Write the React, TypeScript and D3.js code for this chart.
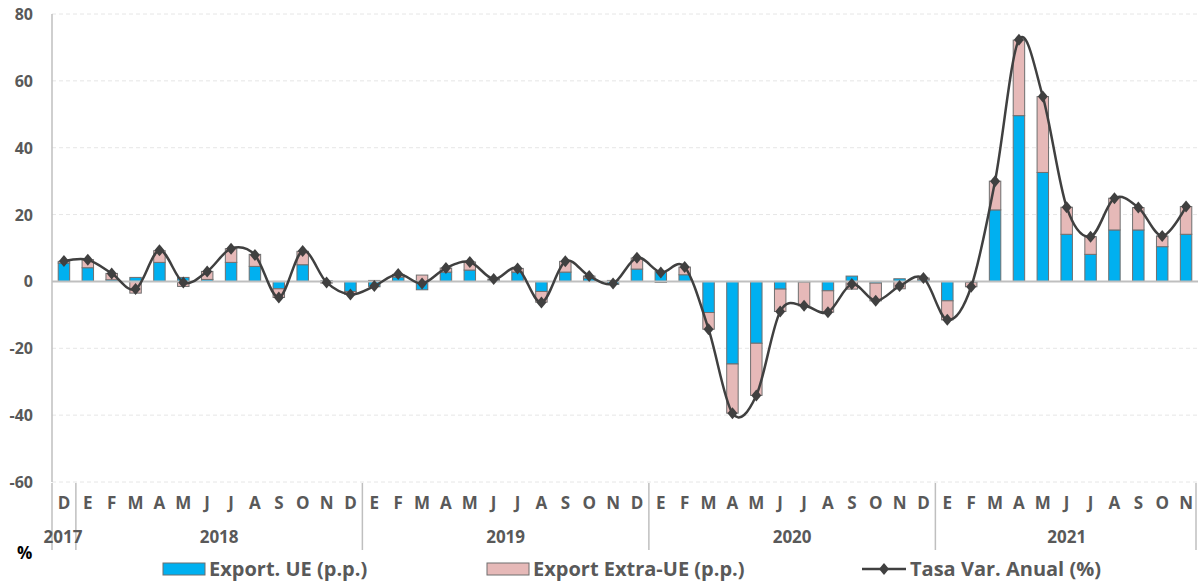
import React, { useEffect, useRef } from 'react'
import * as d3 from 'd3'

// month labels, Dec 2017 .. Nov 2021
const months = ['D',
  'E', 'F', 'M', 'A', 'M', 'J', 'J', 'A', 'S', 'O', 'N', 'D',
  'E', 'F', 'M', 'A', 'M', 'J', 'J', 'A', 'S', 'O', 'N', 'D',
  'E', 'F', 'M', 'A', 'M', 'J', 'J', 'A', 'S', 'O', 'N', 'D',
  'E', 'F', 'M', 'A', 'M', 'J', 'J', 'A', 'S', 'O', 'N']
const years = [
  { label: '2017', from: 0, to: 1 },
  { label: '2018', from: 1, to: 13 },
  { label: '2019', from: 13, to: 25 },
  { label: '2020', from: 25, to: 37 },
  { label: '2021', from: 37, to: 48 },
]
const exportUE = [5.5,
  4.1, 0.5, 1.2, 5.7, 1.2, 0.6, 5.7, 4.5, -2.2, 5.0, 0.2, -3.0,
  -1.6, 1.3, -2.5, 2.8, 3.4, 0.4, 2.8, -3.0, 2.8, 1.0, -0.9, 3.7,
  3.0, 2.0, -9.3, -24.7, -18.5, -2.3, -0.2, -2.8, 1.6, -0.5, 0.8, 0.5,
  -5.8, -0.3, 21.4, 49.6, 32.6, 14.1, 8.1, 15.4, 15.4, 10.4, 14.1]
const exportExtraUE = [0.5,
  2.4, 1.9, -3.5, 3.5, -1.5, 2.4, 4.1, 3.6, -2.6, 4.0, -0.5, -0.9,
  0.3, 0.8, 1.9, 1.2, 2.4, 0.3, 1.1, -3.2, 3.2, 0.6, 0.3, 3.3,
  -0.3, 2.3, -5.0, -14.7, -15.6, -6.7, -7.1, -6.4, -2.3, -5.3, -2.2, 0.5,
  -5.7, -1.3, 8.6, 22.6, 22.7, 8.1, 5.3, 9.5, 6.7, 3.2, 8.3]
const tasaAnual = [6.1,
  6.5, 2.4, -2.3, 9.3, -0.3, 3.0, 9.8, 7.9, -4.8, 9.1, -0.3, -3.9,
  -1.4, 2.2, -0.6, 4.0, 5.8, 0.7, 3.9, -6.3, 6.0, 1.6, -0.6, 7.1,
  2.7, 4.3, -14.3, -39.4, -34.1, -9.0, -7.3, -9.2, -0.8, -5.8, -1.4, 1.0,
  -11.5, -1.6, 30.0, 72.3, 55.3, 22.2, 13.4, 24.9, 22.1, 13.6, 22.4]
const yTicks = [80, 60, 40, 20, 0, -20, -40, -60]

const W = 1198
const H = 581
const FONT = '"Open Sans", sans-serif'
const TXT = '#595959'
const diamond = 'M0,-6L5,0L0,6L-5,0Z'

const App = () => {
  const ref = useRef<SVGSVGElement>(null)

  useEffect(() => {
    const svg = d3.select(ref.current)
    svg.selectAll('*').remove()

    const x = d3.scaleBand<number>()
      .domain(d3.range(months.length))
      .range([52, 1198])
      .paddingInner(0.52)
      .paddingOuter(0.26)
    const y = d3.scaleLinear().domain([-60, 80]).range([482, 14])
    const cx = (i: number) => x(i)! + x.bandwidth() / 2
    const step = x.step()
    const edge = (i: number) => 52 + i * step

    // grid
    svg.append('g').selectAll('line')
      .data(yTicks.filter(t => t !== 0))
      .join('line')
      .attr('x1', 52).attr('x2', 1198)
      .attr('y1', d => y(d)).attr('y2', d => y(d))
      .attr('stroke', '#e6e6e6').attr('stroke-dasharray', '4,3')

    // y labels
    svg.append('g').selectAll('text')
      .data(yTicks)
      .join('text')
      .attr('x', 33).attr('y', d => y(d) + 6)
      .attr('text-anchor', 'end')
      .style('font', `bold 16px ${FONT}`).attr('fill', TXT)
      .text(d => d)

    // stacked bars: positives go up, negatives go down
    const bars = svg.append('g')
    months.forEach((_, i) => {
      let pos = 0
      let neg = 0
      ;[[exportUE[i], '#00b0f0'], [exportExtraUE[i], '#e6b9b8']].forEach(([v, c]) => {
        const val = v as number
        let y0, y1
        if (val >= 0) { y0 = pos; y1 = pos + val; pos = y1 } else { y0 = neg; y1 = neg + val; neg = y1 }
        bars.append('rect')
          .attr('x', x(i)!)
          .attr('width', x.bandwidth())
          .attr('y', y(Math.max(y0, y1)))
          .attr('height', Math.abs(y(y0) - y(y1)))
          .attr('fill', c as string)
          .attr('stroke', '#6f6f6f').attr('stroke-width', 1)
      })
    })

    // axes
    svg.append('line')
      .attr('x1', 52).attr('x2', 1198).attr('y1', y(0)).attr('y2', y(0))
      .attr('stroke', '#bfbfbf').attr('stroke-width', 2)
    svg.append('line')
      .attr('x1', 52).attr('x2', 52).attr('y1', 14).attr('y2', 482)
      .attr('stroke', '#bfbfbf').attr('stroke-width', 1.5)

    // line
    const line = d3.line<number>()
      .x((_, i) => cx(i))
      .y(d => y(d))
      .curve(d3.curveCatmullRom.alpha(0))
    svg.append('path')
      .attr('d', line(tasaAnual))
      .attr('fill', 'none').attr('stroke', '#404040').attr('stroke-width', 2.5)
    svg.append('g').selectAll('path')
      .data(tasaAnual)
      .join('path')
      .attr('d', diamond)
      .attr('transform', (d, i) => `translate(${cx(i)},${y(d)})`)
      .attr('fill', '#404040')

    // month labels
    svg.append('g').selectAll('text')
      .data(months)
      .join('text')
      .attr('x', (_, i) => cx(i)).attr('y', 509)
      .attr('text-anchor', 'middle')
      .style('font', `bold 17px ${FONT}`).attr('fill', TXT)
      .text(d => d)

    // year groups
    const bounds = [0, 1, 13, 25, 37, 48]
    svg.append('g').selectAll('line')
      .data(bounds)
      .join('line')
      .attr('x1', d => edge(d) - (d === 48 ? 2 : 0)).attr('x2', d => edge(d) - (d === 48 ? 2 : 0))
      .attr('y1', 483).attr('y2', 550)
      .attr('stroke', '#bfbfbf').attr('stroke-width', 1.5)
    svg.append('g').selectAll('text')
      .data(years)
      .join('text')
      .attr('x', d => d.to - d.from === 1 ? edge(d.from) + 11 : (edge(d.from) + edge(d.to)) / 2)
      .attr('y', 543)
      .attr('text-anchor', 'middle')
      .style('font', `bold 17px ${FONT}`).attr('fill', TXT)
      .text(d => d.label)

    svg.append('text').attr('x', 17).attr('y', 559)
      .style('font', `bold 17px ${FONT}`).attr('fill', '#000').text('%')

    // legend
    const leg = svg.append('g')
    const items = [
      { x: 163, label: 'Export. UE (p.p.)', c: '#00b0f0' },
      { x: 487, label: 'Export Extra-UE (p.p.)', c: '#e6b9b8' },
    ]
    items.forEach(it => {
      leg.append('rect').attr('x', it.x).attr('y', 563).attr('width', 42).attr('height', 12)
        .attr('fill', it.c).attr('stroke', '#6f6f6f')
      leg.append('text').attr('x', it.x + 46).attr('y', 576)
        .style('font', `bold 20px ${FONT}`).attr('fill', TXT).text(it.label)
    })
    leg.append('line').attr('x1', 862).attr('x2', 906).attr('y1', 569).attr('y2', 569)
      .attr('stroke', '#404040').attr('stroke-width', 2.5)
    leg.append('path').attr('d', diamond)
      .attr('transform', 'translate(884,569)').attr('fill', '#404040')
    leg.append('text').attr('x', 910).attr('y', 576)
      .style('font', `bold 20px ${FONT}`).attr('fill', TXT).text('Tasa Var. Anual (%)')

    return () => { svg.selectAll('*').remove() }
  }, [])

  return (
    <svg ref={ref} width={W} height={H} style={{ position: 'absolute', left: 0, top: 0, background: '#fff' }} />
  )
}

export default App
